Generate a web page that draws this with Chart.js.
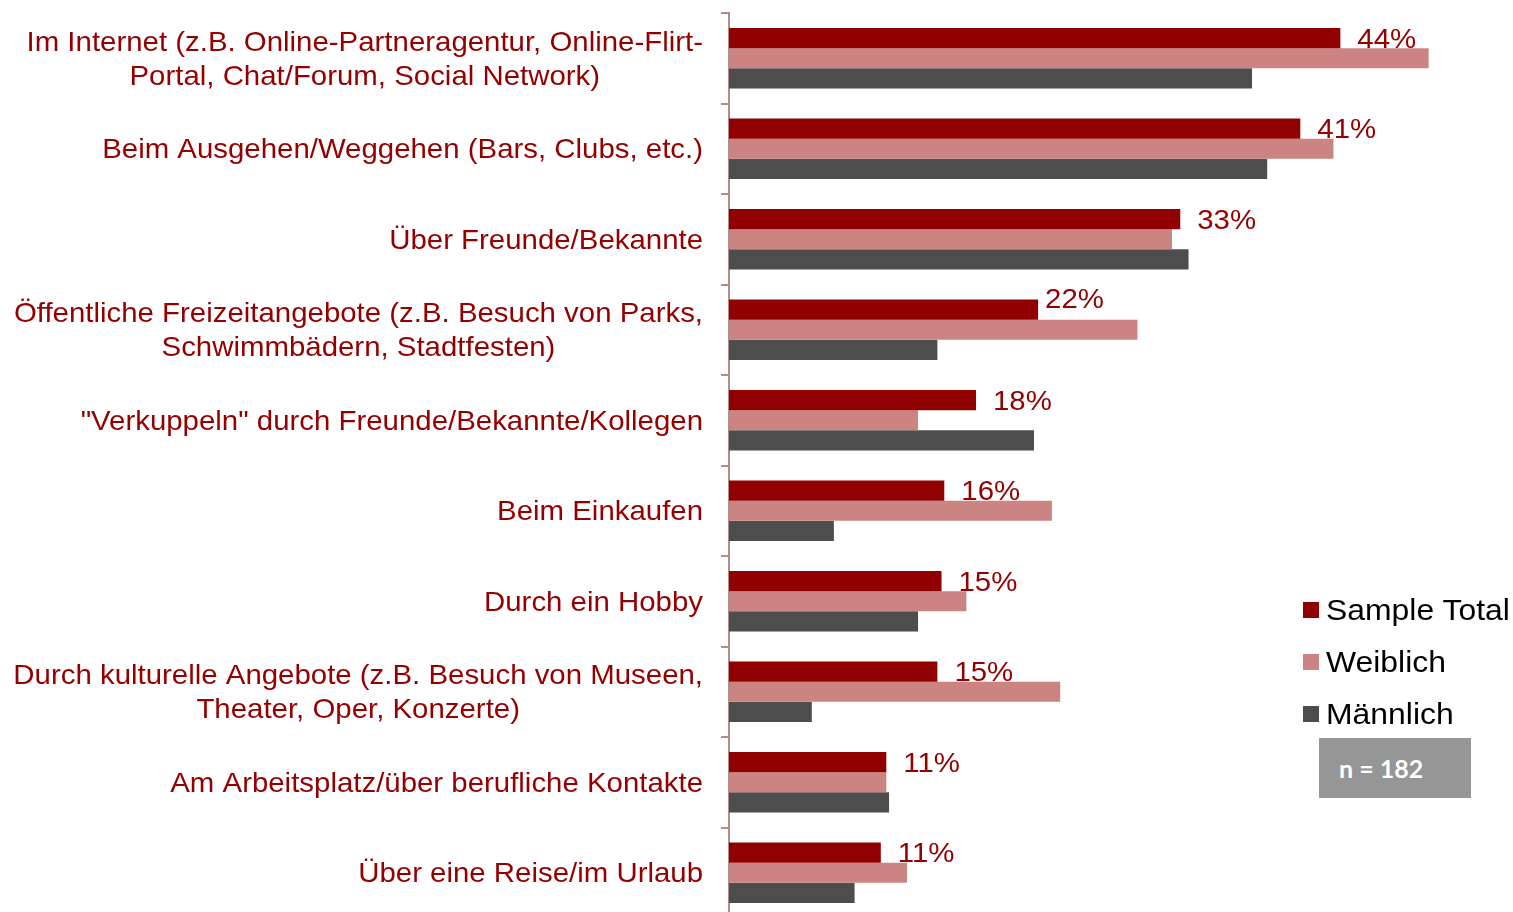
<!DOCTYPE html>
<html>
<head>
<meta charset="utf-8">
<script src="https://cdn.jsdelivr.net/npm/chart.js@4/dist/chart.umd.min.js"></script>
<style>
  html, body { margin: 0; padding: 0; background: #ffffff; }
  #wrap { position: relative; width: 1513px; height: 912px; overflow: hidden; }
  #chart { position: absolute; left: 0; top: 0; }
  #legend { position: absolute; left: 1303px; top: 584px; font-family: 'Liberation Sans', Arial, sans-serif; }
  .item { display: flex; align-items: center; height: 52px; }
  .sw { width: 16px; height: 16px; margin-right: 7px; flex: none; }
  .txt { font-size: 29px; color: #000; line-height: 36px; white-space: nowrap; transform: scaleX(1.1); transform-origin: left center; }
  #nbox { position: absolute; left: 1319px; top: 738px; width: 152px; height: 60px; background: #969696;
          color: #fff; font-family: Lato, 'Open Sans', sans-serif; font-weight: bold; font-size: 25px;
          line-height: 60px; box-sizing: border-box; padding-left: 20px; }
</style>
</head>
<body>
<div id="wrap">
  <canvas id="chart" width="1513" height="918"></canvas>
  <div id="legend"></div>
  <div id="nbox">n = 182</div>
</div>
<script>
const categories = [
  ["Im Internet (z.B. Online-Partneragentur, Online-Flirt-", "Portal, Chat/Forum, Social Network)"],
  ["Beim Ausgehen/Weggehen (Bars, Clubs, etc.)"],
  ["Über Freunde/Bekannte"],
  ["Öffentliche Freizeitangebote (z.B. Besuch von Parks,", "Schwimmbädern, Stadtfesten)"],
  ["\"Verkuppeln\" durch Freunde/Bekannte/Kollegen"],
  ["Beim Einkaufen"],
  ["Durch ein Hobby"],
  ["Durch kulturelle Angebote (z.B. Besuch von Museen,", "Theater, Oper, Konzerte)"],
  ["Am Arbeitsplatz/über berufliche Kontakte"],
  ["Über eine Reise/im Urlaub"]
];
const sampleTotal = [44.3, 41.4, 32.7, 22.4, 17.9, 15.6, 15.4, 15.1, 11.4, 11.0];
const weiblich    = [50.7, 43.8, 32.1, 29.6, 13.7, 23.4, 17.2, 24.0, 11.4, 12.9];
const maennlich   = [37.9, 39.0, 33.3, 15.1, 22.1,  7.6, 13.7,  6.0, 11.6,  9.1];
const seriesNames = ["Sample Total", "Weiblich", "Männlich"];
const seriesColors = ["#900000", "#cc8482", "#4d4d4d"];

const FONT = "'Liberation Sans', Arial, sans-serif";
const LABEL_COLOR = "#940000";
const STRETCH = 1.05;

const catLabelPlugin = {
  id: 'catLabels',
  afterDraw(chart) {
    const ctx = chart.ctx;
    const y = chart.scales.y;
    const rightEdge = y.right - 26;
    ctx.save();
    ctx.font = "28px " + FONT;
    ctx.fillStyle = LABEL_COLOR;
    ctx.textAlign = 'center';
    ctx.textBaseline = 'middle';
    categories.forEach((lines, i) => {
      const cy = y.getPixelForTick(i) + 2;
      const w = Math.max(...lines.map(l => ctx.measureText(l).width)) * STRETCH;
      const cx = rightEdge - w / 2;
      lines.forEach((l, j) => {
        ctx.save();
        ctx.translate(cx, cy + (j - (lines.length - 1) / 2) * 34);
        ctx.scale(STRETCH, 1);
        ctx.fillText(l, 0, 0);
        ctx.restore();
      });
    });
    ctx.restore();
  }
};

const valueLabelPlugin = {
  id: 'valueLabels',
  afterDatasetsDraw(chart) {
    const ctx = chart.ctx;
    const meta = chart.getDatasetMeta(0);
    ctx.save();
    ctx.font = "28px " + FONT;
    ctx.fillStyle = LABEL_COLOR;
    ctx.textAlign = 'left';
    ctx.textBaseline = 'middle';
    meta.data.forEach((bar, i) => {
      const v = chart.data.datasets[0].data[i];
      let dx = 17, dy = 2;
      if (i === 3) { dx = 7; dy = -9; }
      ctx.save();
      ctx.translate(bar.x + dx, bar.y + dy);
      ctx.scale(STRETCH, 1);
      ctx.fillText(Math.round(v) + '%', 0, 0);
      ctx.restore();
    });
    ctx.restore();
  }
};

const datasets = [sampleTotal, weiblich, maennlich].map((d, k) => ({
  label: seriesNames[k],
  data: d,
  backgroundColor: seriesColors[k],
  borderWidth: 0,
  categoryPercentage: 0.67,
  barPercentage: 1.0
}));

new Chart(document.getElementById('chart'), {
  type: 'bar',
  data: { labels: categories, datasets },
  options: {
    indexAxis: 'y',
    responsive: false,
    animation: false,
    layout: { padding: { top: 13, right: 25, bottom: 0, left: 0 } },
    plugins: { legend: { display: false }, tooltip: { enabled: false } },
    scales: {
      x: { display: false, min: 0, max: 55 },
      y: {
        ticks: { display: false },
        grid: { drawOnChartArea: false, drawTicks: true, tickLength: 8, color: '#b48c8c', lineWidth: 2, offset: true },
        border: { color: '#b48c8c', width: 2 },
        afterFit(scale) { scale.width = 729; }
      }
    }
  },
  plugins: [catLabelPlugin, valueLabelPlugin]
});

const legend = document.getElementById('legend');
seriesNames.forEach((n, k) => {
  const it = document.createElement('div');
  it.className = 'item';
  it.innerHTML = '<div class="sw" style="background:' + seriesColors[k] + '"></div><div class="txt">' + n + '</div>';
  legend.appendChild(it);
});
</script>
</body>
</html>
